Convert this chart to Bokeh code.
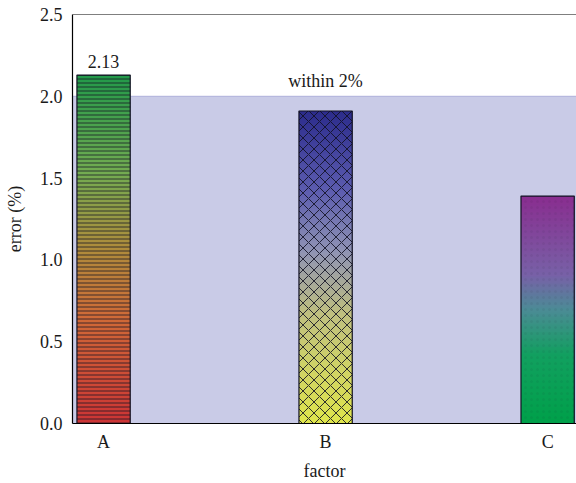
import numpy as np
from bokeh.plotting import figure
from bokeh.models import Range1d, FixedTicker, Span, CustomJSTickFormatter
from bokeh.core.properties import value
from bokeh.embed import file_html
from bokeh.resources import INLINE

# data
categories = ["A", "B", "C"]
errors = [2.13, 1.91, 1.39]
band_top = 2.0
band_label = "within 2%"
y_ticks = [0.0, 0.5, 1.0, 1.5, 2.0, 2.5]

FONT = "Liberation Serif"
FS = "18px"
BAR_W = 0.24

# gradient colour stops (position, hex) per bar, bottom -> top
grad_stops = [
    [(0.0, "#cc3535"), (0.3, "#d06a38"), (0.5, "#b08c3c"), (0.72, "#74ac52"), (1.0, "#22994a")],
    [(0.0, "#e0e64c"), (0.35, "#c0c080"), (0.55, "#9094b4"), (0.75, "#5c5cb0"), (1.0, "#2c2c8c")],
    [(0.0, "#00a04a"), (0.3, "#12a060"), (0.5, "#4c8c96"), (0.65, "#7862a8"), (1.0, "#8a2e90")],
]
hatches = ["-", "x", "."]
hatch_scales = [4, 11, 6]
hatch_alphas = [0.75, 0.85, 0.06]


def hex_rgb(h):
    h = h.lstrip("#")
    return np.array([int(h[i:i + 2], 16) for i in (0, 2, 4)], dtype=float)


def gradient_image(stops, n=256):
    t = np.linspace(0, 1, n)
    pos = [s[0] for s in stops]
    cols = np.array([hex_rgb(s[1]) for s in stops])
    img = np.empty((n, 1), dtype=np.uint32)
    view = img.view(dtype=np.uint8).reshape((n, 1, 4))
    for k in range(3):
        view[:, 0, k] = np.interp(t, pos, cols[:, k]).astype(np.uint8)
    view[:, 0, 3] = 255
    return img


xs = list(range(len(categories)))
x_start, x_end = -0.14, len(categories) - 1 + 0.13

p = figure(width=576, height=483, output_backend="svg", toolbar_location=None,
           x_range=Range1d(x_start, x_end), y_range=Range1d(0, 2.5),
           min_border_left=72, min_border_right=0, min_border_top=14, min_border_bottom=59)
p.outline_line_color = None
p.grid.visible = False
p.background_fill_color = "white"

# band
p.quad(left=[x_start], right=[x_end + 0.05], bottom=[0], top=[band_top],
       fill_color="#c9cbe7", line_color="#aeb1da", line_width=1)
p.text(x=[xs[1]], y=[band_top], text=[band_label], text_align="center", text_baseline="bottom",
       y_offset=-5, text_font=value(FONT), text_font_size=FS, text_color="#1a1a1a")

# bars: gradient images + hatch/outline overlay
for i, (x, v) in enumerate(zip(xs, errors)):
    p.image_rgba(image=[gradient_image(grad_stops[i])], x=[x - BAR_W / 2], y=[0],
                 dw=[BAR_W], dh=[v])
    p.vbar(x=[x], top=[v], bottom=0, width=BAR_W, fill_alpha=0, line_color="#111122",
           line_width=1.2, hatch_pattern=hatches[i], hatch_scale=hatch_scales[i],
           hatch_color="#111122", hatch_alpha=hatch_alphas[i], hatch_weight=1)

# value label on first bar
p.text(x=[xs[0]], y=[errors[0]], text=["%.2f" % errors[0]], text_align="center",
       text_baseline="bottom", y_offset=-7, text_font=value(FONT), text_font_size=FS,
       text_color="#1a1a1a")

# top border
p.add_layout(Span(location=2.5, dimension="width", line_color="black", line_width=1.2))

# axes
p.xaxis.ticker = FixedTicker(ticks=xs)
p.xaxis.major_label_overrides = {x: c for x, c in zip(xs, categories)}
p.yaxis.ticker = FixedTicker(ticks=y_ticks)
p.yaxis.formatter = CustomJSTickFormatter(code="return tick.toFixed(1);")
p.xaxis.axis_label = "factor"
p.yaxis.axis_label = "error (%)"
for ax in (p.xaxis[0], p.yaxis[0]):
    ax.axis_line_color = "black"
    ax.axis_line_width = 1.2
    ax.major_tick_line_color = None
    ax.minor_tick_line_color = None
    ax.major_tick_out = 0
    ax.major_tick_in = 0
    ax.major_label_text_font = FONT
    ax.major_label_text_font_size = FS
    ax.major_label_text_color = "#1a1a1a"
    ax.axis_label_text_font = FONT
    ax.axis_label_text_font_size = FS
    ax.axis_label_text_font_style = "normal"
    ax.axis_label_text_color = "#1a1a1a"
p.yaxis.major_label_standoff = 10
p.xaxis.major_label_standoff = 8
p.yaxis.axis_label_standoff = 12
p.xaxis.axis_label_standoff = 6

open("out.html", "w").write(file_html(p, INLINE))
